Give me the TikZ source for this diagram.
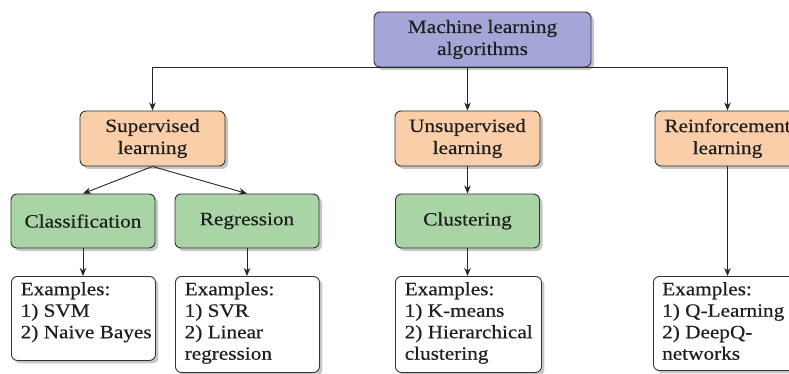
\documentclass[tikz,border=0pt]{standalone}
\usepackage{fontspec}
\setmainfont{Liberation Serif}[FakeStretch=1.13, FakeBold=0.4]
\usetikzlibrary{arrows.meta,shadows}
\definecolor{topc}{RGB}{163,166,214}
\definecolor{orc}{RGB}{251,206,170}
\definecolor{grc}{RGB}{169,213,166}
\definecolor{edgec}{RGB}{50,50,50}
\definecolor{txtc}{RGB}{30,30,30}
\begin{document}
\begin{tikzpicture}[x=1pt,y=-1pt,
  box/.style={draw=edgec, line width=0.9pt, rounded corners=6pt,
    drop shadow={shadow xshift=3pt, shadow yshift=-3pt, fill=black!22, opacity=1},
    align=center, inner sep=0pt, text=txtc,
    font=\fontsize{18.8}{22}\selectfont},
  topbox/.style={box, fill=topc, minimum width=217pt, minimum height=55pt},
  catbox/.style={box, fill=orc, minimum width=145pt, minimum height=55pt},
  algbox/.style={box, fill=grc, minimum width=144pt, minimum height=54pt},
  exbox/.style={box, fill=white, minimum width=144pt, anchor=north west},
  extext/.style={anchor=north west, align=left, inner sep=0pt, text=txtc,
    font=\fontsize{18.8}{21.5}\selectfont},
  arr/.style={draw=black!85, line width=0.9pt, -{Stealth[length=8pt,width=6.5pt,inset=2.5pt]}}
]
\path[use as bounding box, fill=white] (0,0) rectangle (789,374);

\node[topbox] (top) at (482.5,39.5) {Machine learning\\algorithms};

\node[catbox] (sup) at (152.5,138.5) {Supervised\\learning};
\node[catbox] (uns) at (467.5,138.5) {Unsupervised\\learning};
\node[catbox] (rei) at (727.5,138.5) {Reinforcement\\learning};

\node[algbox] (cls) at (83,221) {Classification};
\node[algbox] (reg) at (247,221) {Regression};
\node[algbox] (clu) at (467.5,221) {Clustering};

\node[exbox, minimum height=84pt] (clsx) at (11,276) {};
\node[exbox, minimum height=96pt] (regx) at (175,276) {};
\node[exbox, minimum height=96pt, minimum width=146pt] (clux) at (395,276) {};
\node[exbox, minimum height=94pt, minimum width=145pt] (reix) at (653,276) {};

\node[extext] (clsxt) at ([shift={(9.5,6)}]clsx.north west) {Examples:\\1) SVM\\2) Naive Bayes};
\node[extext] (regxt) at ([shift={(9.5,6)}]regx.north west) {Examples:\\1) SVR\\2) Linear\\regression};
\node[extext] (cluxt) at ([shift={(9.5,6)}]clux.north west) {Examples:\\1) K-means\\2) Hierarchical\\clustering};
\node[extext] (reixt) at ([shift={(9,6)}]reix.north west) {Examples:\\1) Q-Learning\\2) DeepQ-\\networks};

\draw[arr] (top.south) -| (sup.north);
\draw[arr] (top.south) -| (rei.north);
\draw[arr] (top.south -| uns.north) -- (uns.north);
\draw[arr] (sup.south) -- (cls.north);
\draw[arr] (sup.south) -- (reg.north);
\draw[arr] (uns.south) -- (clu.north);
\draw[arr] (cls.south) -- (cls.south |- clsx.north);
\draw[arr] (reg.south) -- (reg.south |- regx.north);
\draw[arr] (clu.south) -- (clu.south |- clux.north);
\draw[arr] (rei.south) -- (rei.south |- reix.north);
\end{tikzpicture}
\end{document}
